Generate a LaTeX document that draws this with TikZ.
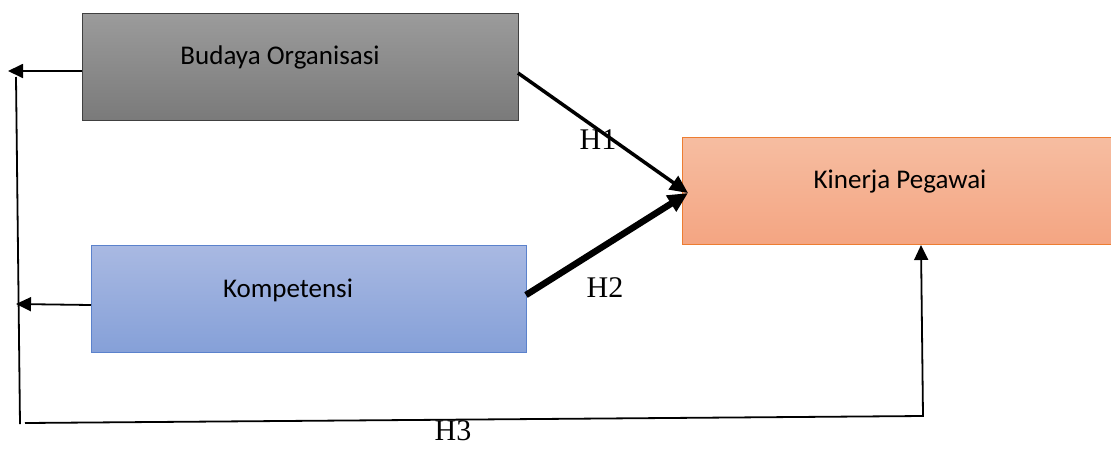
\documentclass[tikz,border=0pt]{standalone}
\usepackage{fontspec}
\setmainfont{Carlito}
\newfontfamily\hfont{Liberation Serif}
\usetikzlibrary{arrows.meta}
\definecolor{greyT}{HTML}{9B9B9B}
\definecolor{greyB}{HTML}{7A7A7A}
\definecolor{greyD}{HTML}{404040}
\definecolor{blueT}{HTML}{A9B9E2}
\definecolor{blueB}{HTML}{85A0D8}
\definecolor{blueD}{HTML}{5B82CC}
\definecolor{orT}{HTML}{F6BDA1}
\definecolor{orB}{HTML}{F4A582}
\definecolor{orD}{HTML}{ED7D31}
\tikzset{
  box/.style={rectangle, minimum height=107pt, inner sep=0pt},
  boxtext/.style={font=\fontsize{27}{30}\selectfont, inner sep=0pt},
  conn/.style={line width=1.8pt, draw=black, -{Triangle[length=15pt,width=14pt]}},
  plain/.style={line width=1.8pt, draw=black},
  hyp/.style={font=\hfont\fontsize{30}{32}\selectfont, inner sep=0pt}
}
\begin{document}
\begin{tikzpicture}[x=1pt,y=-1pt]
\useasboundingbox (0,0) rectangle (1111,448);
% boxes
\node[box, minimum width=436pt, draw=greyD, line width=1pt, top color=greyT, bottom color=greyB, anchor=north west] (bo) at (82,13) {};
\node[box, minimum width=435pt, draw=blueD, line width=1pt, top color=blueT, bottom color=blueB, anchor=north west] (ko) at (91,245) {};
\begin{scope}
\clip (0,0) rectangle (1111,448);
\node[box, minimum width=440pt, draw=orD, line width=1pt, top color=orT, bottom color=orB, anchor=north west] (kp) at (682,137) {};
\end{scope}
\node[boxtext] (tbo) at (280,57) {Budaya Organisasi};
\node[boxtext] (tko) at (288,290) {Kompetensi};
\node[boxtext] (tkp) at (900,182) {Kinerja Pegawai};
% coordinates
\coordinate (boL) at (82,71);
\coordinate (a1) at (8,71);
\coordinate (koL) at (91,305);
\coordinate (a2) at (16,304);
\coordinate (v1) at (16,77);
\coordinate (v2) at (20,424);
\coordinate (h1) at (25,423);
\coordinate (h2) at (923,416);
\coordinate (kpB) at (921,245);
\coordinate (boR) at (518,73);
\coordinate (koR) at (526,295);
\coordinate (kpL) at (688,193);
% connectors
\draw[conn] (boL) -- (a1);
\draw[conn] (koL) -- (a2);
\draw[plain] (v1) -- (v2);
\draw[conn] (h1) -- (h2) -- (kpB);
\draw[line width=3.5pt, -{Triangle[length=18pt,width=16pt]}] (boR) -- (kpL);
\draw[line width=6.5pt, -{Triangle[length=20pt,width=18pt]}] (koR) -- (kpL);
% labels
\node[hyp] (lh1) at (598,140) {H1};
\node[hyp] (lh2) at (605,288) {H2};
\node[hyp, anchor=base] (lh3) at (453,440) {H3};
\end{tikzpicture}
\end{document}
